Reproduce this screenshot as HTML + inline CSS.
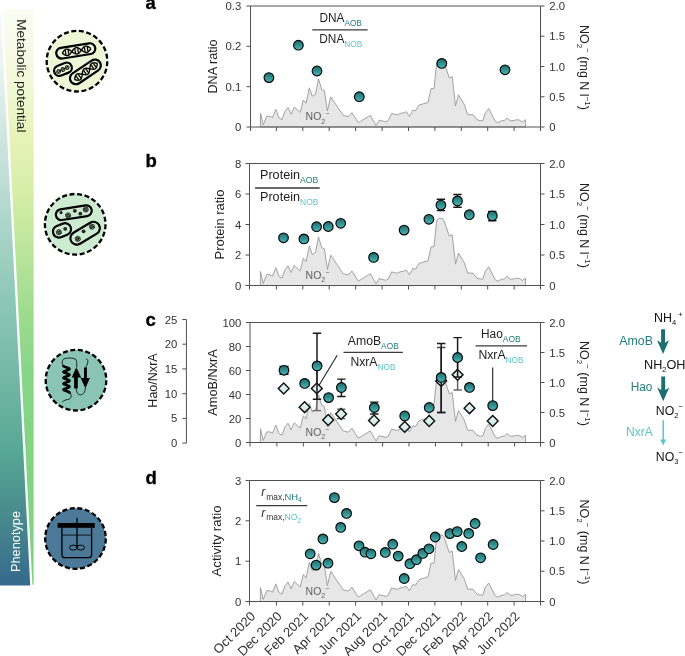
<!DOCTYPE html><html><head><meta charset="utf-8"><style>html,body{margin:0;padding:0;background:#fff;overflow:hidden}svg{display:block}text{font-family:"Liberation Sans",sans-serif}svg{will-change:transform}</style></head><body>
<svg width="685" height="656" viewBox="0 0 685 656">
<defs>
<linearGradient id="gblue" x1="0" y1="9" x2="0" y2="586" gradientUnits="userSpaceOnUse">
<stop offset="0" stop-color="#f6faf9"/><stop offset="0.088" stop-color="#ebf4f1"/><stop offset="0.192" stop-color="#d5e9e3"/>
<stop offset="0.331" stop-color="#b6dad0"/><stop offset="0.497" stop-color="#8fc8b7"/><stop offset="0.631" stop-color="#74b9a6"/>
<stop offset="0.764" stop-color="#57a895"/><stop offset="0.835" stop-color="#4e958f"/><stop offset="0.905" stop-color="#45838d"/>
<stop offset="0.99" stop-color="#366c8c"/><stop offset="1" stop-color="#356a8c"/></linearGradient>
<linearGradient id="ggreen" x1="0" y1="9" x2="0" y2="586" gradientUnits="userSpaceOnUse">
<stop offset="0" stop-color="#fbfdf4"/><stop offset="0.088" stop-color="#f5f9e3"/><stop offset="0.21" stop-color="#e9f4bc"/>
<stop offset="0.33" stop-color="#d3eca5"/><stop offset="0.503" stop-color="#a4dd91"/><stop offset="0.635" stop-color="#85d587"/><stop offset="1" stop-color="#80d283"/></linearGradient>
<linearGradient id="gpt" x1="0" y1="0" x2="0" y2="1">
<stop offset="0" stop-color="#1a6a6c"/><stop offset="1" stop-color="#4ab8b8"/></linearGradient>
<linearGradient id="gdia" x1="0" y1="0" x2="0" y2="1">
<stop offset="0" stop-color="#e6f6f5"/><stop offset="1" stop-color="#cbe9e8"/></linearGradient>
</defs>
<polygon points="0,9.5 0.6,9.5 30.2,585.6 0,585.6" fill="url(#gblue)"/>
<polygon points="2.9,9.2 33.6,9.2 33.6,584.8 32.4,584.8" fill="url(#ggreen)"/>
<text transform="translate(17.2,19.2) rotate(90)" font-size="12.5" fill="#222" textLength="113.2" lengthAdjust="spacingAndGlyphs">Metabolic potential</text>
<text transform="translate(19.8,572) rotate(-90)" font-size="12" fill="#fff" textLength="61" lengthAdjust="spacingAndGlyphs">Phenotype</text>
<polygon points="260.3,127.00 260.5,113.10 263.2,125.00 266.7,116.30 270.0,116.30 272.5,117.70 275.8,109.40 279.1,118.10 282.0,119.60 284.9,111.50 288.0,107.50 291.1,114.20 294.3,107.10 300.2,112.50 303.3,100.00 306.1,103.30 309.3,87.80 312.3,96.30 315.5,94.20 318.5,78.80 321.7,89.40 324.4,90.70 327.4,111.00 330.7,96.90 343.2,115.30 348.4,116.60 351.9,112.60 358.2,122.60 360.8,121.20 370.3,115.30 376.1,125.50 379.2,120.20 385.8,121.80 388.4,120.50 391.5,113.50 397.2,114.90 400.2,113.50 403.7,112.80 406.3,111.70 409.4,116.30 412.9,110.00 415.5,110.80 419.0,105.10 422.6,104.00 428.0,102.50 431.0,88.70 434.0,88.50 436.4,65.50 437.3,61.60 439.0,60.50 442.6,60.60 443.9,62.80 446.1,68.50 449.3,78.00 452.2,76.60 455.5,105.80 458.5,94.80 464.2,104.30 467.7,114.60 473.1,114.80 476.9,119.70 480.2,120.60 482.8,120.60 485.4,112.70 488.7,108.50 495.2,121.30 497.7,122.70 501.5,120.80 504.4,120.50 507.0,118.00 510.4,120.80 513.9,120.50 516.7,119.70 519.6,120.10 522.4,122.00 525.4,119.70 525.5,127.00" fill="#e7e7e7" stroke="#999" stroke-width="0.9" stroke-linejoin="round"/>
<path d="M250.5,6.0H540.5M250.5,6.0V127.0M250.5,127.0H540.5M540.5,6.0V127.0" stroke="#505050" stroke-width="1" fill="none"/>
<path d="M246.5,127.0H250.5" stroke="#505050" stroke-width="1"/>
<text x="241.3" y="131.0" font-size="11.3" fill="#333" text-anchor="end" >0</text>
<path d="M246.5,86.7H250.5" stroke="#505050" stroke-width="1"/>
<text x="241.3" y="90.7" font-size="11.3" fill="#333" text-anchor="end" >0.1</text>
<path d="M246.5,46.3H250.5" stroke="#505050" stroke-width="1"/>
<text x="241.3" y="50.3" font-size="11.3" fill="#333" text-anchor="end" >0.2</text>
<path d="M246.5,6.0H250.5" stroke="#505050" stroke-width="1"/>
<text x="241.3" y="10.0" font-size="11.3" fill="#333" text-anchor="end" >0.3</text>
<path d="M540.5,127.0H544.5" stroke="#505050" stroke-width="1"/>
<text x="549.3" y="131.0" font-size="11.3" fill="#333" text-anchor="start" >0</text>
<path d="M540.5,96.8H544.5" stroke="#505050" stroke-width="1"/>
<text x="549.3" y="100.8" font-size="11.3" fill="#333" text-anchor="start" >0.5</text>
<path d="M540.5,66.5H544.5" stroke="#505050" stroke-width="1"/>
<text x="549.3" y="70.5" font-size="11.3" fill="#333" text-anchor="start" >1.0</text>
<path d="M540.5,36.2H544.5" stroke="#505050" stroke-width="1"/>
<text x="549.3" y="40.2" font-size="11.3" fill="#333" text-anchor="start" >1.5</text>
<path d="M540.5,6.0H544.5" stroke="#505050" stroke-width="1"/>
<text x="549.3" y="10.0" font-size="11.3" fill="#333" text-anchor="start" >2.0</text>
<path d="M250.5,127.0V131.0" stroke="#505050" stroke-width="1"/>
<path d="M276.4,127.0V131.0" stroke="#505050" stroke-width="1"/>
<path d="M302.8,127.0V131.0" stroke="#505050" stroke-width="1"/>
<path d="M329.2,127.0V131.0" stroke="#505050" stroke-width="1"/>
<path d="M355.6,127.0V131.0" stroke="#505050" stroke-width="1"/>
<path d="M382.1,127.0V131.0" stroke="#505050" stroke-width="1"/>
<path d="M408.5,127.0V131.0" stroke="#505050" stroke-width="1"/>
<path d="M434.9,127.0V131.0" stroke="#505050" stroke-width="1"/>
<path d="M461.3,127.0V131.0" stroke="#505050" stroke-width="1"/>
<path d="M487.7,127.0V131.0" stroke="#505050" stroke-width="1"/>
<path d="M514.1,127.0V131.0" stroke="#505050" stroke-width="1"/>
<path d="M540.5,127.0V131.0" stroke="#505050" stroke-width="1"/>
<text x="145.6" y="9.4" font-size="18.5" font-weight="bold" fill="#000" stroke="#000" stroke-width="0.35">a</text>
<text transform="translate(216.8,66.5) rotate(-90)" font-size="12.5" fill="#1e1e1e" text-anchor="middle" textLength="54" lengthAdjust="spacingAndGlyphs">DNA ratio</text>
<text transform="translate(580.2,25.0) rotate(90)" font-size="12.5" fill="#1e1e1e">NO<tspan font-size="8" dy="3">2</tspan><tspan font-size="8" dy="-8">&#8722;</tspan><tspan dy="5"> (mg N l</tspan><tspan font-size="8" dy="-5">&#8722;1</tspan><tspan dy="5">)</tspan></text>
<text x="305.6" y="120.2" font-size="10.5" fill="#5f5f5f">NO<tspan font-size="7" dy="3.5">2</tspan><tspan font-size="7" dy="-7.5">&#8722;</tspan></text>
<path d="M312.3,29.8H367.7" stroke="#3a3a3a" stroke-width="1.3"/>
<text x="319.4" y="21.9" font-size="12.3" fill="#1e1e1e"><tspan textLength="25" lengthAdjust="spacingAndGlyphs">DNA</tspan><tspan font-size="8.6" dy="4.0" fill="#207e7e" textLength="17.5" lengthAdjust="spacingAndGlyphs">AOB</tspan></text>
<text x="319.3" y="43.1" font-size="12.3" fill="#1e1e1e"><tspan textLength="25" lengthAdjust="spacingAndGlyphs">DNA</tspan><tspan font-size="8.6" dy="4.0" fill="#5ec3c8" textLength="18" lengthAdjust="spacingAndGlyphs">NOB</tspan></text>
<circle cx="268.9" cy="77.6" r="4.82" fill="url(#gpt)" stroke="#000" stroke-width="1.15"/>
<circle cx="298.4" cy="45.2" r="4.82" fill="url(#gpt)" stroke="#000" stroke-width="1.15"/>
<circle cx="317.0" cy="71.0" r="4.82" fill="url(#gpt)" stroke="#000" stroke-width="1.15"/>
<circle cx="359.3" cy="96.7" r="4.82" fill="url(#gpt)" stroke="#000" stroke-width="1.15"/>
<circle cx="441.8" cy="63.4" r="4.82" fill="url(#gpt)" stroke="#000" stroke-width="1.15"/>
<circle cx="505.0" cy="69.8" r="4.82" fill="url(#gpt)" stroke="#000" stroke-width="1.15"/>
<polygon points="260.3,285.50 260.5,271.49 263.2,283.48 266.7,274.71 270.0,274.71 272.5,276.12 275.8,267.75 279.1,276.53 282.0,278.04 284.9,269.87 288.0,265.84 291.1,272.59 294.3,265.44 300.2,270.88 303.3,258.28 306.1,261.60 309.3,245.98 312.3,254.55 315.5,252.43 318.5,236.90 321.7,247.59 324.4,248.90 327.4,269.37 330.7,255.15 343.2,273.70 348.4,275.01 351.9,270.98 358.2,281.06 360.8,279.65 370.3,273.70 376.1,283.99 379.2,278.64 385.8,280.26 388.4,278.95 391.5,271.89 397.2,273.30 400.2,271.89 403.7,271.18 406.3,270.07 409.4,274.71 412.9,268.36 415.5,269.17 419.0,263.42 422.6,262.31 428.0,260.80 431.0,246.88 434.0,246.68 436.4,223.49 437.3,219.56 439.0,218.45 442.6,218.55 443.9,220.77 446.1,226.52 449.3,236.10 452.2,234.68 455.5,264.12 458.5,253.03 464.2,262.61 467.7,273.00 473.1,273.20 476.9,278.14 480.2,279.05 482.8,279.05 485.4,271.08 488.7,266.85 495.2,279.75 497.7,281.16 501.5,279.25 504.4,278.95 507.0,276.43 510.4,279.25 513.9,278.95 516.7,278.14 519.6,278.54 522.4,280.46 525.4,278.14 525.5,285.50" fill="#e7e7e7" stroke="#999" stroke-width="0.9" stroke-linejoin="round"/>
<path d="M249.5,163.5H540.5M249.5,163.5V285.5M249.5,285.5H540.5M540.5,163.5V285.5" stroke="#505050" stroke-width="1" fill="none"/>
<path d="M245.5,285.5H249.5" stroke="#505050" stroke-width="1"/>
<text x="241.3" y="289.5" font-size="11.3" fill="#333" text-anchor="end" >0</text>
<path d="M245.5,255.0H249.5" stroke="#505050" stroke-width="1"/>
<text x="241.3" y="259.0" font-size="11.3" fill="#333" text-anchor="end" >2</text>
<path d="M245.5,224.5H249.5" stroke="#505050" stroke-width="1"/>
<text x="241.3" y="228.5" font-size="11.3" fill="#333" text-anchor="end" >4</text>
<path d="M245.5,194.0H249.5" stroke="#505050" stroke-width="1"/>
<text x="241.3" y="198.0" font-size="11.3" fill="#333" text-anchor="end" >6</text>
<path d="M245.5,163.5H249.5" stroke="#505050" stroke-width="1"/>
<text x="241.3" y="167.5" font-size="11.3" fill="#333" text-anchor="end" >8</text>
<path d="M540.5,285.5H544.5" stroke="#505050" stroke-width="1"/>
<text x="549.3" y="289.5" font-size="11.3" fill="#333" text-anchor="start" >0</text>
<path d="M540.5,255.0H544.5" stroke="#505050" stroke-width="1"/>
<text x="549.3" y="259.0" font-size="11.3" fill="#333" text-anchor="start" >0.5</text>
<path d="M540.5,224.5H544.5" stroke="#505050" stroke-width="1"/>
<text x="549.3" y="228.5" font-size="11.3" fill="#333" text-anchor="start" >1.0</text>
<path d="M540.5,194.0H544.5" stroke="#505050" stroke-width="1"/>
<text x="549.3" y="198.0" font-size="11.3" fill="#333" text-anchor="start" >1.5</text>
<path d="M540.5,163.5H544.5" stroke="#505050" stroke-width="1"/>
<text x="549.3" y="167.5" font-size="11.3" fill="#333" text-anchor="start" >2.0</text>
<path d="M249.5,285.5V289.5" stroke="#505050" stroke-width="1"/>
<path d="M276.4,285.5V289.5" stroke="#505050" stroke-width="1"/>
<path d="M302.8,285.5V289.5" stroke="#505050" stroke-width="1"/>
<path d="M329.2,285.5V289.5" stroke="#505050" stroke-width="1"/>
<path d="M355.6,285.5V289.5" stroke="#505050" stroke-width="1"/>
<path d="M382.1,285.5V289.5" stroke="#505050" stroke-width="1"/>
<path d="M408.5,285.5V289.5" stroke="#505050" stroke-width="1"/>
<path d="M434.9,285.5V289.5" stroke="#505050" stroke-width="1"/>
<path d="M461.3,285.5V289.5" stroke="#505050" stroke-width="1"/>
<path d="M487.7,285.5V289.5" stroke="#505050" stroke-width="1"/>
<path d="M514.1,285.5V289.5" stroke="#505050" stroke-width="1"/>
<path d="M540.5,285.5V289.5" stroke="#505050" stroke-width="1"/>
<text x="145.6" y="166.5" font-size="18.5" font-weight="bold" fill="#000" stroke="#000" stroke-width="0.35">b</text>
<text transform="translate(224.4,224.5) rotate(-90)" font-size="12.5" fill="#1e1e1e" text-anchor="middle" textLength="69.8" lengthAdjust="spacingAndGlyphs">Protein ratio</text>
<text transform="translate(580.2,183.0) rotate(90)" font-size="12.5" fill="#1e1e1e">NO<tspan font-size="8" dy="3">2</tspan><tspan font-size="8" dy="-8">&#8722;</tspan><tspan dy="5"> (mg N l</tspan><tspan font-size="8" dy="-5">&#8722;1</tspan><tspan dy="5">)</tspan></text>
<text x="305.6" y="278.7" font-size="10.5" fill="#5f5f5f">NO<tspan font-size="7" dy="3.5">2</tspan><tspan font-size="7" dy="-7.5">&#8722;</tspan></text>
<path d="M255.1,188.0H319.7" stroke="#3a3a3a" stroke-width="1.3"/>
<text x="260.0" y="178.8" font-size="12.3" fill="#1e1e1e"><tspan textLength="40" lengthAdjust="spacingAndGlyphs">Protein</tspan><tspan font-size="8.6" dy="4.0" fill="#207e7e" textLength="18.2" lengthAdjust="spacingAndGlyphs">AOB</tspan></text>
<text x="260.0" y="201.2" font-size="12.3" fill="#1e1e1e"><tspan textLength="40" lengthAdjust="spacingAndGlyphs">Protein</tspan><tspan font-size="8.6" dy="4.0" fill="#5ec3c8" textLength="18.5" lengthAdjust="spacingAndGlyphs">NOB</tspan></text>
<path d="M440.90,199.3V210.6" stroke="#1a1a1a" stroke-width="1.5" fill="none"/><path d="M436.7,199.3H445.1M436.7,210.6H445.1" stroke="#1a1a1a" stroke-width="1.45" fill="none"/>
<path d="M457.50,194.4V207.3" stroke="#1a1a1a" stroke-width="1.5" fill="none"/><path d="M453.3,194.4H461.7M453.3,207.3H461.7" stroke="#1a1a1a" stroke-width="1.45" fill="none"/>
<path d="M492.30,211.4V220.7" stroke="#1a1a1a" stroke-width="1.5" fill="none"/><path d="M488.1,211.4H496.5M488.1,220.7H496.5" stroke="#1a1a1a" stroke-width="1.45" fill="none"/>
<circle cx="283.5" cy="237.8" r="4.82" fill="url(#gpt)" stroke="#000" stroke-width="1.15"/>
<circle cx="303.9" cy="238.9" r="4.82" fill="url(#gpt)" stroke="#000" stroke-width="1.15"/>
<circle cx="316.6" cy="226.7" r="4.82" fill="url(#gpt)" stroke="#000" stroke-width="1.15"/>
<circle cx="328.3" cy="226.5" r="4.82" fill="url(#gpt)" stroke="#000" stroke-width="1.15"/>
<circle cx="340.7" cy="223.3" r="4.82" fill="url(#gpt)" stroke="#000" stroke-width="1.15"/>
<circle cx="373.6" cy="257.4" r="4.82" fill="url(#gpt)" stroke="#000" stroke-width="1.15"/>
<circle cx="404.1" cy="230.1" r="4.82" fill="url(#gpt)" stroke="#000" stroke-width="1.15"/>
<circle cx="428.9" cy="219.3" r="4.82" fill="url(#gpt)" stroke="#000" stroke-width="1.15"/>
<circle cx="440.9" cy="205.1" r="4.82" fill="url(#gpt)" stroke="#000" stroke-width="1.15"/>
<circle cx="457.5" cy="200.9" r="4.82" fill="url(#gpt)" stroke="#000" stroke-width="1.15"/>
<circle cx="469.3" cy="214.7" r="4.82" fill="url(#gpt)" stroke="#000" stroke-width="1.15"/>
<circle cx="492.3" cy="215.8" r="4.82" fill="url(#gpt)" stroke="#000" stroke-width="1.15"/>
<polygon points="260.3,442.50 260.5,428.71 263.2,440.52 266.7,431.89 270.0,431.89 272.5,433.28 275.8,425.05 279.1,433.67 282.0,435.16 284.9,427.13 288.0,423.16 291.1,429.81 294.3,422.76 300.2,428.12 303.3,415.72 306.1,419.00 309.3,403.62 312.3,412.05 315.5,409.97 318.5,394.70 321.7,405.21 324.4,406.50 327.4,426.63 330.7,412.65 343.2,430.90 348.4,432.19 351.9,428.22 358.2,438.14 360.8,436.75 370.3,430.90 376.1,441.01 379.2,435.76 385.8,437.34 388.4,436.05 391.5,429.11 397.2,430.50 400.2,429.11 403.7,428.42 406.3,427.33 409.4,431.89 412.9,425.64 415.5,426.43 419.0,420.78 422.6,419.69 428.0,418.20 431.0,404.52 434.0,404.32 436.4,381.51 437.3,377.64 439.0,376.55 442.6,376.65 443.9,378.83 446.1,384.48 449.3,393.90 452.2,392.52 455.5,421.48 458.5,410.57 464.2,419.99 467.7,430.20 473.1,430.40 476.9,435.26 480.2,436.15 482.8,436.15 485.4,428.32 488.7,424.15 495.2,436.85 497.7,438.24 501.5,436.35 504.4,436.05 507.0,433.57 510.4,436.35 513.9,436.05 516.7,435.26 519.6,435.66 522.4,437.54 525.4,435.26 525.5,442.50" fill="#e7e7e7" stroke="#999" stroke-width="0.9" stroke-linejoin="round"/>
<path d="M250.0,322.5H540.5M250.0,322.5V442.5M250.0,442.5H540.5M540.5,322.5V442.5" stroke="#505050" stroke-width="1" fill="none"/>
<path d="M246.0,442.5H250.0" stroke="#505050" stroke-width="1"/>
<text x="241.3" y="446.5" font-size="11.3" fill="#333" text-anchor="end" >0</text>
<path d="M246.0,418.5H250.0" stroke="#505050" stroke-width="1"/>
<text x="241.3" y="422.5" font-size="11.3" fill="#333" text-anchor="end" >20</text>
<path d="M246.0,394.5H250.0" stroke="#505050" stroke-width="1"/>
<text x="241.3" y="398.5" font-size="11.3" fill="#333" text-anchor="end" >40</text>
<path d="M246.0,370.5H250.0" stroke="#505050" stroke-width="1"/>
<text x="241.3" y="374.5" font-size="11.3" fill="#333" text-anchor="end" >60</text>
<path d="M246.0,346.5H250.0" stroke="#505050" stroke-width="1"/>
<text x="241.3" y="350.5" font-size="11.3" fill="#333" text-anchor="end" >80</text>
<path d="M246.0,322.5H250.0" stroke="#505050" stroke-width="1"/>
<text x="241.3" y="326.5" font-size="11.3" fill="#333" text-anchor="end" >100</text>
<path d="M540.5,442.5H544.5" stroke="#505050" stroke-width="1"/>
<text x="549.3" y="446.5" font-size="11.3" fill="#333" text-anchor="start" >0</text>
<path d="M540.5,412.5H544.5" stroke="#505050" stroke-width="1"/>
<text x="549.3" y="416.5" font-size="11.3" fill="#333" text-anchor="start" >0.5</text>
<path d="M540.5,382.5H544.5" stroke="#505050" stroke-width="1"/>
<text x="549.3" y="386.5" font-size="11.3" fill="#333" text-anchor="start" >1.0</text>
<path d="M540.5,352.5H544.5" stroke="#505050" stroke-width="1"/>
<text x="549.3" y="356.5" font-size="11.3" fill="#333" text-anchor="start" >1.5</text>
<path d="M540.5,322.5H544.5" stroke="#505050" stroke-width="1"/>
<text x="549.3" y="326.5" font-size="11.3" fill="#333" text-anchor="start" >2.0</text>
<path d="M250.0,442.5V446.5" stroke="#505050" stroke-width="1"/>
<path d="M276.9,442.5V446.5" stroke="#505050" stroke-width="1"/>
<path d="M303.3,442.5V446.5" stroke="#505050" stroke-width="1"/>
<path d="M329.7,442.5V446.5" stroke="#505050" stroke-width="1"/>
<path d="M356.1,442.5V446.5" stroke="#505050" stroke-width="1"/>
<path d="M382.6,442.5V446.5" stroke="#505050" stroke-width="1"/>
<path d="M409.0,442.5V446.5" stroke="#505050" stroke-width="1"/>
<path d="M435.4,442.5V446.5" stroke="#505050" stroke-width="1"/>
<path d="M461.8,442.5V446.5" stroke="#505050" stroke-width="1"/>
<path d="M488.2,442.5V446.5" stroke="#505050" stroke-width="1"/>
<path d="M514.6,442.5V446.5" stroke="#505050" stroke-width="1"/>
<path d="M540.5,442.5V446.5" stroke="#505050" stroke-width="1"/>
<text x="145.6" y="325.6" font-size="18.5" font-weight="bold" fill="#000" stroke="#000" stroke-width="0.35">c</text>
<text transform="translate(216.6,382.5) rotate(-90)" font-size="12.5" fill="#1e1e1e" text-anchor="middle" textLength="66.4" lengthAdjust="spacingAndGlyphs">AmoB/NxrA</text>
<text transform="translate(580.2,341.0) rotate(90)" font-size="12.5" fill="#1e1e1e">NO<tspan font-size="8" dy="3">2</tspan><tspan font-size="8" dy="-8">&#8722;</tspan><tspan dy="5"> (mg N l</tspan><tspan font-size="8" dy="-5">&#8722;1</tspan><tspan dy="5">)</tspan></text>
<text x="305.6" y="435.7" font-size="10.5" fill="#5f5f5f">NO<tspan font-size="7" dy="3.5">2</tspan><tspan font-size="7" dy="-7.5">&#8722;</tspan></text>
<polygon points="260.3,601.50 260.5,587.60 263.2,599.50 266.7,590.80 270.0,590.80 272.5,592.20 275.8,583.90 279.1,592.60 282.0,594.10 284.9,586.00 288.0,582.00 291.1,588.70 294.3,581.60 300.2,587.00 303.3,574.50 306.1,577.80 309.3,562.30 312.3,570.80 315.5,568.70 318.5,553.30 321.7,563.90 324.4,565.20 327.4,585.50 330.7,571.40 343.2,589.80 348.4,591.10 351.9,587.10 358.2,597.10 360.8,595.70 370.3,589.80 376.1,600.00 379.2,594.70 385.8,596.30 388.4,595.00 391.5,588.00 397.2,589.40 400.2,588.00 403.7,587.30 406.3,586.20 409.4,590.80 412.9,584.50 415.5,585.30 419.0,579.60 422.6,578.50 428.0,577.00 431.0,563.20 434.0,563.00 436.4,540.00 437.3,536.10 439.0,535.00 442.6,535.10 443.9,537.30 446.1,543.00 449.3,552.50 452.2,551.10 455.5,580.30 458.5,569.30 464.2,578.80 467.7,589.10 473.1,589.30 476.9,594.20 480.2,595.10 482.8,595.10 485.4,587.20 488.7,583.00 495.2,595.80 497.7,597.20 501.5,595.30 504.4,595.00 507.0,592.50 510.4,595.30 513.9,595.00 516.7,594.20 519.6,594.60 522.4,596.50 525.4,594.20 525.5,601.50" fill="#e7e7e7" stroke="#999" stroke-width="0.9" stroke-linejoin="round"/>
<path d="M249.5,480.5H540.5M249.5,480.5V601.5M249.5,601.5H540.5M540.5,480.5V601.5" stroke="#505050" stroke-width="1" fill="none"/>
<path d="M245.5,601.5H249.5" stroke="#505050" stroke-width="1"/>
<text x="241.3" y="605.5" font-size="11.3" fill="#333" text-anchor="end" >0</text>
<path d="M245.5,561.2H249.5" stroke="#505050" stroke-width="1"/>
<text x="241.3" y="565.2" font-size="11.3" fill="#333" text-anchor="end" >1</text>
<path d="M245.5,520.8H249.5" stroke="#505050" stroke-width="1"/>
<text x="241.3" y="524.8" font-size="11.3" fill="#333" text-anchor="end" >2</text>
<path d="M245.5,480.5H249.5" stroke="#505050" stroke-width="1"/>
<text x="241.3" y="484.5" font-size="11.3" fill="#333" text-anchor="end" >3</text>
<path d="M540.5,601.5H544.5" stroke="#505050" stroke-width="1"/>
<text x="549.3" y="605.5" font-size="11.3" fill="#333" text-anchor="start" >0</text>
<path d="M540.5,571.2H544.5" stroke="#505050" stroke-width="1"/>
<text x="549.3" y="575.2" font-size="11.3" fill="#333" text-anchor="start" >0.5</text>
<path d="M540.5,541.0H544.5" stroke="#505050" stroke-width="1"/>
<text x="549.3" y="545.0" font-size="11.3" fill="#333" text-anchor="start" >1.0</text>
<path d="M540.5,510.8H544.5" stroke="#505050" stroke-width="1"/>
<text x="549.3" y="514.8" font-size="11.3" fill="#333" text-anchor="start" >1.5</text>
<path d="M540.5,480.5H544.5" stroke="#505050" stroke-width="1"/>
<text x="549.3" y="484.5" font-size="11.3" fill="#333" text-anchor="start" >2.0</text>
<path d="M249.5,601.5V605.5" stroke="#505050" stroke-width="1"/>
<path d="M276.4,601.5V605.5" stroke="#505050" stroke-width="1"/>
<path d="M302.8,601.5V605.5" stroke="#505050" stroke-width="1"/>
<path d="M329.2,601.5V605.5" stroke="#505050" stroke-width="1"/>
<path d="M355.6,601.5V605.5" stroke="#505050" stroke-width="1"/>
<path d="M382.1,601.5V605.5" stroke="#505050" stroke-width="1"/>
<path d="M408.5,601.5V605.5" stroke="#505050" stroke-width="1"/>
<path d="M434.9,601.5V605.5" stroke="#505050" stroke-width="1"/>
<path d="M461.3,601.5V605.5" stroke="#505050" stroke-width="1"/>
<path d="M487.7,601.5V605.5" stroke="#505050" stroke-width="1"/>
<path d="M514.1,601.5V605.5" stroke="#505050" stroke-width="1"/>
<path d="M540.5,601.5V605.5" stroke="#505050" stroke-width="1"/>
<text x="145.6" y="483.7" font-size="18.5" font-weight="bold" fill="#000" stroke="#000" stroke-width="0.35">d</text>
<text transform="translate(221.3,541.0) rotate(-90)" font-size="12.5" fill="#1e1e1e" text-anchor="middle" textLength="70.9" lengthAdjust="spacingAndGlyphs">Activity ratio</text>
<text transform="translate(580.2,499.5) rotate(90)" font-size="12.5" fill="#1e1e1e">NO<tspan font-size="8" dy="3">2</tspan><tspan font-size="8" dy="-8">&#8722;</tspan><tspan dy="5"> (mg N l</tspan><tspan font-size="8" dy="-5">&#8722;1</tspan><tspan dy="5">)</tspan></text>
<text x="305.6" y="594.7" font-size="10.5" fill="#5f5f5f">NO<tspan font-size="7" dy="3.5">2</tspan><tspan font-size="7" dy="-7.5">&#8722;</tspan></text>
<text transform="translate(256.2,617.1) rotate(-45)" font-size="13.1" fill="#333" text-anchor="end">Oct 2020</text>
<text transform="translate(282.6,617.1) rotate(-45)" font-size="13.1" fill="#333" text-anchor="end">Dec 2020</text>
<text transform="translate(309.0,617.1) rotate(-45)" font-size="13.1" fill="#333" text-anchor="end">Feb 2021</text>
<text transform="translate(335.4,617.1) rotate(-45)" font-size="13.1" fill="#333" text-anchor="end">Apr 2021</text>
<text transform="translate(361.8,617.1) rotate(-45)" font-size="13.1" fill="#333" text-anchor="end">Jun 2021</text>
<text transform="translate(388.2,617.1) rotate(-45)" font-size="13.1" fill="#333" text-anchor="end">Aug 2021</text>
<text transform="translate(414.7,617.1) rotate(-45)" font-size="13.1" fill="#333" text-anchor="end">Oct 2021</text>
<text transform="translate(441.1,617.1) rotate(-45)" font-size="13.1" fill="#333" text-anchor="end">Dec 2021</text>
<text transform="translate(467.5,617.1) rotate(-45)" font-size="13.1" fill="#333" text-anchor="end">Feb 2022</text>
<text transform="translate(493.9,617.1) rotate(-45)" font-size="13.1" fill="#333" text-anchor="end">Apr 2022</text>
<text transform="translate(520.3,617.1) rotate(-45)" font-size="13.1" fill="#333" text-anchor="end">Jun 2022</text>
<path d="M186.4,319.5V443.1" stroke="#505050" stroke-width="1" fill="none"/>
<path d="M182.3,443.1H186.4" stroke="#505050" stroke-width="1"/>
<text x="177.4" y="447.1" font-size="11.3" fill="#333" text-anchor="end" >0</text>
<path d="M182.3,418.4H186.4" stroke="#505050" stroke-width="1"/>
<text x="177.4" y="422.4" font-size="11.3" fill="#333" text-anchor="end" >5</text>
<path d="M182.3,393.7H186.4" stroke="#505050" stroke-width="1"/>
<text x="177.4" y="397.7" font-size="11.3" fill="#333" text-anchor="end" >10</text>
<path d="M182.3,368.9H186.4" stroke="#505050" stroke-width="1"/>
<text x="177.4" y="372.9" font-size="11.3" fill="#333" text-anchor="end" >15</text>
<path d="M182.3,344.2H186.4" stroke="#505050" stroke-width="1"/>
<text x="177.4" y="348.2" font-size="11.3" fill="#333" text-anchor="end" >20</text>
<path d="M182.3,319.5H186.4" stroke="#505050" stroke-width="1"/>
<text x="177.4" y="323.5" font-size="11.3" fill="#333" text-anchor="end" >25</text>
<text transform="translate(157.3,380.5) rotate(-90)" font-size="12.5" fill="#1e1e1e" text-anchor="middle" textLength="54.3" lengthAdjust="spacingAndGlyphs">Hao/NxrA</text>
<path d="M318.3,386.5L337.2,355.2" stroke="#222" stroke-width="1.1"/>
<path d="M492.7,367.5V401" stroke="#222" stroke-width="1.1"/>
<path d="M316.90,366.0V410.6" stroke="#666" stroke-width="1.5" fill="none"/><path d="M312.7,366.0H321.1M312.7,410.6H321.1" stroke="#666" stroke-width="1.45" fill="none"/>
<path d="M341.20,409.3V418.6" stroke="#666" stroke-width="1.5" fill="none"/><path d="M337.0,409.3H345.4M337.0,418.6H345.4" stroke="#666" stroke-width="1.45" fill="none"/>
<path d="M457.60,359.5V390.0" stroke="#666" stroke-width="1.5" fill="none"/><path d="M453.4,359.5H461.8M453.4,390.0H461.8" stroke="#666" stroke-width="1.45" fill="none"/>
<path d="M441.20,347.4V412.4" stroke="#444" stroke-width="1.5" fill="none"/><path d="M437.0,347.4H445.4M437.0,412.4H445.4" stroke="#444" stroke-width="1.45" fill="none"/>
<path d="M283.7,383.1L289.1,388.5L283.7,393.9L278.3,388.5Z" fill="url(#gdia)" stroke="#111" stroke-width="1.45" stroke-linejoin="miter"/>
<path d="M304.6,401.8L310.0,407.2L304.6,412.6L299.2,407.2Z" fill="url(#gdia)" stroke="#111" stroke-width="1.45" stroke-linejoin="miter"/>
<path d="M316.8,383.0L322.2,388.4L316.8,393.8L311.4,388.4Z" fill="url(#gdia)" stroke="#111" stroke-width="1.45" stroke-linejoin="miter"/>
<path d="M328.2,414.6L333.6,420.0L328.2,425.4L322.8,420.0Z" fill="url(#gdia)" stroke="#111" stroke-width="1.45" stroke-linejoin="miter"/>
<path d="M341.1,408.6L346.5,414.0L341.1,419.4L335.7,414.0Z" fill="url(#gdia)" stroke="#111" stroke-width="1.45" stroke-linejoin="miter"/>
<path d="M374.0,415.1L379.4,420.5L374.0,425.9L368.6,420.5Z" fill="url(#gdia)" stroke="#111" stroke-width="1.45" stroke-linejoin="miter"/>
<path d="M404.7,421.5L410.1,426.9L404.7,432.3L399.3,426.9Z" fill="url(#gdia)" stroke="#111" stroke-width="1.45" stroke-linejoin="miter"/>
<path d="M429.2,415.6L434.6,421.0L429.2,426.4L423.8,421.0Z" fill="url(#gdia)" stroke="#111" stroke-width="1.45" stroke-linejoin="miter"/>
<path d="M441.2,375.6L446.6,381.0L441.2,386.4L435.8,381.0Z" fill="url(#gdia)" stroke="#111" stroke-width="1.45" stroke-linejoin="miter"/>
<path d="M457.6,369.4L463.0,374.8L457.6,380.2L452.2,374.8Z" fill="url(#gdia)" stroke="#111" stroke-width="1.45" stroke-linejoin="miter"/>
<path d="M469.5,402.8L474.9,408.2L469.5,413.6L464.1,408.2Z" fill="url(#gdia)" stroke="#111" stroke-width="1.45" stroke-linejoin="miter"/>
<path d="M492.7,415.6L498.1,421.0L492.7,426.4L487.3,421.0Z" fill="url(#gdia)" stroke="#111" stroke-width="1.45" stroke-linejoin="miter"/>
<path d="M317.00,333.3V399.2" stroke="#1a1a1a" stroke-width="1.5" fill="none"/><path d="M312.8,333.3H321.2M312.8,399.2H321.2" stroke="#1a1a1a" stroke-width="1.45" fill="none"/>
<path d="M341.40,379.1V396.5" stroke="#1a1a1a" stroke-width="1.5" fill="none"/><path d="M337.2,379.1H345.6M337.2,396.5H345.6" stroke="#1a1a1a" stroke-width="1.45" fill="none"/>
<path d="M374.30,402.1V413.9" stroke="#1a1a1a" stroke-width="1.5" fill="none"/><path d="M370.1,402.1H378.5M370.1,413.9H378.5" stroke="#1a1a1a" stroke-width="1.45" fill="none"/>
<path d="M441.20,343.5V412.4" stroke="#1a1a1a" stroke-width="1.5" fill="none"/><path d="M437.0,343.5H445.4M437.0,412.4H445.4" stroke="#1a1a1a" stroke-width="1.45" fill="none"/>
<path d="M457.60,337.6V377.0" stroke="#1a1a1a" stroke-width="1.5" fill="none"/><path d="M453.4,337.6H461.8M453.4,377.0H461.8" stroke="#1a1a1a" stroke-width="1.45" fill="none"/>
<path d="M284.00,366.4V374.2" stroke="#1a1a1a" stroke-width="1.5" fill="none"/><path d="M279.4,366.4H288.6M279.4,374.2H288.6" stroke="#1a1a1a" stroke-width="1.45" fill="none"/>
<circle cx="284.0" cy="370.3" r="4.82" fill="url(#gpt)" stroke="#000" stroke-width="1.15"/>
<circle cx="304.7" cy="383.4" r="4.82" fill="url(#gpt)" stroke="#000" stroke-width="1.15"/>
<circle cx="317.1" cy="365.9" r="4.82" fill="url(#gpt)" stroke="#000" stroke-width="1.15"/>
<circle cx="328.6" cy="397.6" r="4.82" fill="url(#gpt)" stroke="#000" stroke-width="1.15"/>
<circle cx="341.4" cy="387.5" r="4.82" fill="url(#gpt)" stroke="#000" stroke-width="1.15"/>
<circle cx="374.3" cy="407.5" r="4.82" fill="url(#gpt)" stroke="#000" stroke-width="1.15"/>
<circle cx="404.7" cy="416.0" r="4.82" fill="url(#gpt)" stroke="#000" stroke-width="1.15"/>
<circle cx="429.2" cy="407.5" r="4.82" fill="url(#gpt)" stroke="#000" stroke-width="1.15"/>
<circle cx="441.2" cy="377.4" r="4.82" fill="url(#gpt)" stroke="#000" stroke-width="1.15"/>
<circle cx="457.6" cy="357.5" r="4.82" fill="url(#gpt)" stroke="#000" stroke-width="1.15"/>
<circle cx="469.5" cy="387.4" r="4.82" fill="url(#gpt)" stroke="#000" stroke-width="1.15"/>
<circle cx="492.7" cy="405.6" r="4.82" fill="url(#gpt)" stroke="#000" stroke-width="1.15"/>
<path d="M343.5,352.3H402.9" stroke="#3a3a3a" stroke-width="1.3"/>
<text x="347.8" y="344.8" font-size="12.3" fill="#1e1e1e"><tspan textLength="33.3" lengthAdjust="spacingAndGlyphs">AmoB</tspan><tspan font-size="8.6" dy="4.0" fill="#207e7e" textLength="17.6" lengthAdjust="spacingAndGlyphs">AOB</tspan></text>
<text x="350.4" y="366.0" font-size="12.3" fill="#1e1e1e"><tspan textLength="27.1" lengthAdjust="spacingAndGlyphs">NxrA</tspan><tspan font-size="8.6" dy="4.0" fill="#5ec3c8" textLength="18" lengthAdjust="spacingAndGlyphs">NOB</tspan></text>
<path d="M475.5,345.8H527.0" stroke="#3a3a3a" stroke-width="1.3"/>
<text x="481.0" y="338.2" font-size="12.3" fill="#1e1e1e"><tspan textLength="21.8" lengthAdjust="spacingAndGlyphs">Hao</tspan><tspan font-size="8.6" dy="4.0" fill="#207e7e" textLength="18" lengthAdjust="spacingAndGlyphs">AOB</tspan></text>
<text x="478.4" y="358.6" font-size="12.3" fill="#1e1e1e"><tspan textLength="27.2" lengthAdjust="spacingAndGlyphs">NxrA</tspan><tspan font-size="8.6" dy="4.0" fill="#5ec3c8" textLength="18" lengthAdjust="spacingAndGlyphs">NOB</tspan></text>
<circle cx="310.2" cy="553.8" r="4.82" fill="url(#gpt)" stroke="#000" stroke-width="1.15"/>
<circle cx="316.1" cy="565.1" r="4.82" fill="url(#gpt)" stroke="#000" stroke-width="1.15"/>
<circle cx="322.9" cy="538.9" r="4.82" fill="url(#gpt)" stroke="#000" stroke-width="1.15"/>
<circle cx="328.0" cy="563.2" r="4.82" fill="url(#gpt)" stroke="#000" stroke-width="1.15"/>
<circle cx="334.4" cy="497.6" r="4.82" fill="url(#gpt)" stroke="#000" stroke-width="1.15"/>
<circle cx="340.7" cy="527.4" r="4.82" fill="url(#gpt)" stroke="#000" stroke-width="1.15"/>
<circle cx="346.6" cy="513.4" r="4.82" fill="url(#gpt)" stroke="#000" stroke-width="1.15"/>
<circle cx="359.0" cy="545.8" r="4.82" fill="url(#gpt)" stroke="#000" stroke-width="1.15"/>
<circle cx="365.0" cy="552.2" r="4.82" fill="url(#gpt)" stroke="#000" stroke-width="1.15"/>
<circle cx="370.9" cy="553.8" r="4.82" fill="url(#gpt)" stroke="#000" stroke-width="1.15"/>
<circle cx="385.3" cy="552.4" r="4.82" fill="url(#gpt)" stroke="#000" stroke-width="1.15"/>
<circle cx="392.7" cy="544.2" r="4.82" fill="url(#gpt)" stroke="#000" stroke-width="1.15"/>
<circle cx="398.2" cy="556.1" r="4.82" fill="url(#gpt)" stroke="#000" stroke-width="1.15"/>
<circle cx="404.2" cy="578.5" r="4.82" fill="url(#gpt)" stroke="#000" stroke-width="1.15"/>
<circle cx="409.9" cy="563.7" r="4.82" fill="url(#gpt)" stroke="#000" stroke-width="1.15"/>
<circle cx="416.4" cy="559.7" r="4.82" fill="url(#gpt)" stroke="#000" stroke-width="1.15"/>
<circle cx="422.8" cy="553.4" r="4.82" fill="url(#gpt)" stroke="#000" stroke-width="1.15"/>
<circle cx="429.0" cy="548.8" r="4.82" fill="url(#gpt)" stroke="#000" stroke-width="1.15"/>
<circle cx="435.2" cy="537.0" r="4.82" fill="url(#gpt)" stroke="#000" stroke-width="1.15"/>
<circle cx="449.9" cy="533.6" r="4.82" fill="url(#gpt)" stroke="#000" stroke-width="1.15"/>
<circle cx="457.2" cy="531.6" r="4.82" fill="url(#gpt)" stroke="#000" stroke-width="1.15"/>
<circle cx="461.8" cy="546.5" r="4.82" fill="url(#gpt)" stroke="#000" stroke-width="1.15"/>
<circle cx="468.7" cy="533.4" r="4.82" fill="url(#gpt)" stroke="#000" stroke-width="1.15"/>
<circle cx="475.1" cy="523.5" r="4.82" fill="url(#gpt)" stroke="#000" stroke-width="1.15"/>
<circle cx="480.6" cy="557.8" r="4.82" fill="url(#gpt)" stroke="#000" stroke-width="1.15"/>
<circle cx="493.1" cy="544.5" r="4.82" fill="url(#gpt)" stroke="#000" stroke-width="1.15"/>
<path d="M256.2,505.7H307.2" stroke="#3a3a3a" stroke-width="1.3"/>
<text x="261.3" y="496.2" font-size="12.5" font-style="italic" fill="#333">r</text>
<text x="266.2" y="499.9" font-size="8.8" fill="#333"><tspan textLength="18.3" lengthAdjust="spacingAndGlyphs">max,</tspan><tspan fill="#207e7e" textLength="13.6" lengthAdjust="spacingAndGlyphs">NH</tspan><tspan font-size="6.5" dy="2.4" fill="#207e7e">4</tspan></text>
<text x="261.3" y="516.7" font-size="12.5" font-style="italic" fill="#333">r</text>
<text x="266.2" y="520.4" font-size="8.8" fill="#333"><tspan textLength="18.3" lengthAdjust="spacingAndGlyphs">max,</tspan><tspan fill="#5ec3c8" textLength="12.9" lengthAdjust="spacingAndGlyphs">NO</tspan><tspan font-size="6.5" dy="2.4" fill="#5ec3c8">2</tspan></text>
<text x="654.0" y="321.6" font-size="12.4" fill="#111">NH<tspan font-size="7.5" dy="3.1">4</tspan><tspan font-size="8" dx="1.8" dy="-7.8">+</tspan></text>
<path d="M661.0999999999999,329.3H665.0V342.8L669.05,340.2L663.05,354.1L657.05,340.2L661.0999999999999,342.8Z" fill="#1b6f72"/>
<path d="M661.25,376.4H665.1500000000001V390.1L669.2,387.5L663.2,401.3L657.2,387.5L661.25,390.1Z" fill="#1b6f72"/>
<text x="619.3" y="344.7" font-size="12" fill="#207e7e" textLength="33.6" lengthAdjust="spacingAndGlyphs">AmoB</text>
<text x="644.0" y="368.8" font-size="12.7" fill="#111">NH<tspan font-size="7.5" dy="3.3">2</tspan><tspan dy="-3.3">OH</tspan></text>
<text x="630.7" y="391.4" font-size="12" fill="#207e7e" textLength="21.7" lengthAdjust="spacingAndGlyphs">Hao</text>
<text x="655.8" y="414.9" font-size="12.3" fill="#111">NO<tspan font-size="7.5" dy="3.3">2</tspan><tspan font-size="8" dy="-8.8">&#8722;</tspan></text>
<path d="M663.2,420.3V441" stroke="#5ec3c8" stroke-width="1.5"/><path d="M660.2,439.4L666.2,439.4L663.2,445.6Z" fill="#5ec3c8"/>
<text x="626" y="435.6" font-size="12" fill="#5ec3c8" textLength="26.7" lengthAdjust="spacingAndGlyphs">NxrA</text>
<text x="655.8" y="460.7" font-size="12.3" fill="#111">NO<tspan font-size="7.5" dy="3.3">3</tspan><tspan font-size="8" dy="-8.8">&#8722;</tspan></text>
<circle cx="77.0" cy="61.2" r="30.3" fill="#eff5d7" stroke="#000" stroke-width="2.3" stroke-dasharray="5 2.6"/>
<rect x="-19.70" y="-5.40" width="39.40" height="10.80" rx="5.40" transform="translate(75.8,50.9) rotate(-9)" fill="none" stroke="#000" stroke-width="2.2"/>
<rect x="-9.15" y="-5.20" width="18.30" height="10.40" rx="5.20" transform="translate(63.0,69.3) rotate(-22)" fill="none" stroke="#000" stroke-width="2.2"/>
<rect x="-17.40" y="-5.90" width="34.80" height="11.80" rx="5.90" transform="translate(85.4,71.9) rotate(-34)" fill="none" stroke="#000" stroke-width="2.2"/>
<g transform="translate(76.6,50.8) rotate(-9)" fill="none" stroke="#000"><polyline points="-14.50,0.00 -13.90,0.62 -13.29,1.22 -12.69,1.78 -12.08,2.26 -11.48,2.66 -10.88,2.96 -10.27,3.14 -9.67,3.20 -9.06,3.14 -8.46,2.96 -7.85,2.66 -7.25,2.26 -6.65,1.78 -6.04,1.22 -5.44,0.62 -4.83,0.00 -4.23,-0.62 -3.62,-1.22 -3.02,-1.78 -2.42,-2.26 -1.81,-2.66 -1.21,-2.96 -0.60,-3.14 0.00,-3.20 0.60,-3.14 1.21,-2.96 1.81,-2.66 2.42,-2.26 3.02,-1.78 3.62,-1.22 4.23,-0.62 4.83,-0.00 5.44,0.62 6.04,1.22 6.65,1.78 7.25,2.26 7.85,2.66 8.46,2.96 9.06,3.14 9.67,3.20 10.27,3.14 10.88,2.96 11.48,2.66 12.08,2.26 12.69,1.78 13.29,1.22 13.90,0.62 14.50,0.00" stroke-width="1.4"/><polyline points="-14.50,-0.00 -13.90,-0.62 -13.29,-1.22 -12.69,-1.78 -12.08,-2.26 -11.48,-2.66 -10.88,-2.96 -10.27,-3.14 -9.67,-3.20 -9.06,-3.14 -8.46,-2.96 -7.85,-2.66 -7.25,-2.26 -6.65,-1.78 -6.04,-1.22 -5.44,-0.62 -4.83,-0.00 -4.23,0.62 -3.62,1.22 -3.02,1.78 -2.42,2.26 -1.81,2.66 -1.21,2.96 -0.60,3.14 0.00,3.20 0.60,3.14 1.21,2.96 1.81,2.66 2.42,2.26 3.02,1.78 3.62,1.22 4.23,0.62 4.83,0.00 5.44,-0.62 6.04,-1.22 6.65,-1.78 7.25,-2.26 7.85,-2.66 8.46,-2.96 9.06,-3.14 9.67,-3.20 10.27,-3.14 10.88,-2.96 11.48,-2.66 12.08,-2.26 12.69,-1.78 13.29,-1.22 13.90,-0.62 14.50,-0.00" stroke-width="1.4"/><path d="M-11.12,2.28V-2.28M-8.22,2.28V-2.28M-1.45,2.28V-2.28M1.45,2.28V-2.28M8.22,2.28V-2.28M11.12,2.28V-2.28" stroke-width="1.26"/></g>
<g transform="translate(62.9,69.5) rotate(-25)" fill="none" stroke="#000"><polyline points="-7.00,0.00 -6.71,0.37 -6.42,0.73 -6.12,1.06 -5.83,1.34 -5.54,1.58 -5.25,1.76 -4.96,1.86 -4.67,1.90 -4.38,1.86 -4.08,1.76 -3.79,1.58 -3.50,1.34 -3.21,1.06 -2.92,0.73 -2.62,0.37 -2.33,0.00 -2.04,-0.37 -1.75,-0.73 -1.46,-1.06 -1.17,-1.34 -0.88,-1.58 -0.58,-1.76 -0.29,-1.86 0.00,-1.90 0.29,-1.86 0.58,-1.76 0.88,-1.58 1.17,-1.34 1.46,-1.06 1.75,-0.73 2.04,-0.37 2.33,-0.00 2.62,0.37 2.92,0.73 3.21,1.06 3.50,1.34 3.79,1.58 4.08,1.76 4.38,1.86 4.67,1.90 4.96,1.86 5.25,1.76 5.54,1.58 5.83,1.34 6.12,1.06 6.42,0.73 6.71,0.37 7.00,0.00" stroke-width="0.9"/><polyline points="-7.00,-0.00 -6.71,-0.37 -6.42,-0.73 -6.12,-1.06 -5.83,-1.34 -5.54,-1.58 -5.25,-1.76 -4.96,-1.86 -4.67,-1.90 -4.38,-1.86 -4.08,-1.76 -3.79,-1.58 -3.50,-1.34 -3.21,-1.06 -2.92,-0.73 -2.62,-0.37 -2.33,-0.00 -2.04,0.37 -1.75,0.73 -1.46,1.06 -1.17,1.34 -0.88,1.58 -0.58,1.76 -0.29,1.86 0.00,1.90 0.29,1.86 0.58,1.76 0.88,1.58 1.17,1.34 1.46,1.06 1.75,0.73 2.04,0.37 2.33,0.00 2.62,-0.37 2.92,-0.73 3.21,-1.06 3.50,-1.34 3.79,-1.58 4.08,-1.76 4.38,-1.86 4.67,-1.90 4.96,-1.86 5.25,-1.76 5.54,-1.58 5.83,-1.34 6.12,-1.06 6.42,-0.73 6.71,-0.37 7.00,-0.00" stroke-width="0.9"/><path d="M-5.37,1.35V-1.35M-3.97,1.35V-1.35M-0.70,1.35V-1.35M0.70,1.35V-1.35M3.97,1.35V-1.35M5.37,1.35V-1.35" stroke-width="0.81"/></g>
<g transform="translate(86.0,71.5) rotate(-36)" fill="none" stroke="#000"><polyline points="-14.00,0.00 -13.42,0.62 -12.83,1.22 -12.25,1.78 -11.67,2.26 -11.08,2.66 -10.50,2.96 -9.92,3.14 -9.33,3.20 -8.75,3.14 -8.17,2.96 -7.58,2.66 -7.00,2.26 -6.42,1.78 -5.83,1.22 -5.25,0.62 -4.67,0.00 -4.08,-0.62 -3.50,-1.22 -2.92,-1.78 -2.33,-2.26 -1.75,-2.66 -1.17,-2.96 -0.58,-3.14 0.00,-3.20 0.58,-3.14 1.17,-2.96 1.75,-2.66 2.33,-2.26 2.92,-1.78 3.50,-1.22 4.08,-0.62 4.67,-0.00 5.25,0.62 5.83,1.22 6.42,1.78 7.00,2.26 7.58,2.66 8.17,2.96 8.75,3.14 9.33,3.20 9.92,3.14 10.50,2.96 11.08,2.66 11.67,2.26 12.25,1.78 12.83,1.22 13.42,0.62 14.00,0.00" stroke-width="1.4"/><polyline points="-14.00,-0.00 -13.42,-0.62 -12.83,-1.22 -12.25,-1.78 -11.67,-2.26 -11.08,-2.66 -10.50,-2.96 -9.92,-3.14 -9.33,-3.20 -8.75,-3.14 -8.17,-2.96 -7.58,-2.66 -7.00,-2.26 -6.42,-1.78 -5.83,-1.22 -5.25,-0.62 -4.67,-0.00 -4.08,0.62 -3.50,1.22 -2.92,1.78 -2.33,2.26 -1.75,2.66 -1.17,2.96 -0.58,3.14 0.00,3.20 0.58,3.14 1.17,2.96 1.75,2.66 2.33,2.26 2.92,1.78 3.50,1.22 4.08,0.62 4.67,0.00 5.25,-0.62 5.83,-1.22 6.42,-1.78 7.00,-2.26 7.58,-2.66 8.17,-2.96 8.75,-3.14 9.33,-3.20 9.92,-3.14 10.50,-2.96 11.08,-2.66 11.67,-2.26 12.25,-1.78 12.83,-1.22 13.42,-0.62 14.00,-0.00" stroke-width="1.4"/><path d="M-10.73,2.28V-2.28M-7.93,2.28V-2.28M-1.40,2.28V-2.28M1.40,2.28V-2.28M7.93,2.28V-2.28M10.73,2.28V-2.28" stroke-width="1.26"/></g>
<circle cx="75.2" cy="224.3" r="30.3" fill="#cdebd1" stroke="#000" stroke-width="2.3" stroke-dasharray="5 2.6"/>
<rect x="-18.10" y="-5.40" width="36.20" height="10.80" rx="5.40" transform="translate(73.8,212.7) rotate(-9)" fill="none" stroke="#000" stroke-width="2.2"/>
<rect x="-9.30" y="-6.00" width="18.60" height="12.00" rx="6.00" transform="translate(62.0,230.4) rotate(-21)" fill="none" stroke="#000" stroke-width="2.2"/>
<rect x="-16.15" y="-6.40" width="32.30" height="12.80" rx="6.40" transform="translate(85.1,233.2) rotate(-31)" fill="none" stroke="#000" stroke-width="2.2"/>
<circle cx="61.0" cy="212.6" r="1.6" fill="#1e1e1e"/><circle cx="60.6" cy="212.2" r="0.45" fill="#777"/>
<g fill="#9fc7a5" stroke="#111" stroke-width="0.85"><circle cx="69.68" cy="215.89" r="1.05"/><circle cx="68.47" cy="217.01" r="1.05"/><circle cx="66.89" cy="216.52" r="1.05"/><circle cx="66.52" cy="214.91" r="1.05"/><circle cx="67.73" cy="213.79" r="1.05"/><circle cx="69.31" cy="214.28" r="1.05"/><circle cx="68.10" cy="215.40" r="1.0"/></g>
<circle cx="74.8" cy="210.8" r="1.9" fill="#1e1e1e"/><circle cx="74.39999999999999" cy="210.4" r="0.45" fill="#777"/>
<circle cx="80.3" cy="213.7" r="1.9" fill="#1e1e1e"/><circle cx="79.89999999999999" cy="213.29999999999998" r="0.45" fill="#777"/>
<g fill="#9fc7a5" stroke="#111" stroke-width="0.85"><circle cx="87.28" cy="209.99" r="1.05"/><circle cx="86.07" cy="211.11" r="1.05"/><circle cx="84.49" cy="210.62" r="1.05"/><circle cx="84.12" cy="209.01" r="1.05"/><circle cx="85.33" cy="207.89" r="1.05"/><circle cx="86.91" cy="208.38" r="1.05"/><circle cx="85.70" cy="209.50" r="1.0"/></g>
<g fill="#9fc7a5" stroke="#111" stroke-width="0.85"><circle cx="60.48" cy="232.69" r="1.05"/><circle cx="59.27" cy="233.81" r="1.05"/><circle cx="57.69" cy="233.32" r="1.05"/><circle cx="57.32" cy="231.71" r="1.05"/><circle cx="58.53" cy="230.59" r="1.05"/><circle cx="60.11" cy="231.08" r="1.05"/><circle cx="58.90" cy="232.20" r="1.0"/></g>
<circle cx="65.2" cy="228.8" r="1.9" fill="#1e1e1e"/><circle cx="64.8" cy="228.4" r="0.45" fill="#777"/>
<g fill="#9fc7a5" stroke="#111" stroke-width="0.85"><circle cx="79.38" cy="239.39" r="1.05"/><circle cx="78.17" cy="240.51" r="1.05"/><circle cx="76.59" cy="240.02" r="1.05"/><circle cx="76.22" cy="238.41" r="1.05"/><circle cx="77.43" cy="237.29" r="1.05"/><circle cx="79.01" cy="237.78" r="1.05"/><circle cx="77.80" cy="238.90" r="1.0"/></g>
<circle cx="83.6" cy="231.3" r="1.9" fill="#1e1e1e"/><circle cx="83.19999999999999" cy="230.9" r="0.45" fill="#777"/>
<g fill="#9fc7a5" stroke="#111" stroke-width="0.85"><circle cx="93.58" cy="227.19" r="1.05"/><circle cx="92.37" cy="228.31" r="1.05"/><circle cx="90.79" cy="227.82" r="1.05"/><circle cx="90.42" cy="226.21" r="1.05"/><circle cx="91.63" cy="225.09" r="1.05"/><circle cx="93.21" cy="225.58" r="1.05"/><circle cx="92.00" cy="226.70" r="1.0"/></g>
<circle cx="76.0" cy="380.2" r="30.3" fill="#8ac5b3" stroke="#000" stroke-width="2.3" stroke-dasharray="5 2.6"/>
<polyline points="63.55,366.00 63.63,366.22 63.87,366.44 64.26,366.67 64.77,366.89 65.37,367.11 66.04,367.33 66.73,367.55 67.41,367.77 68.04,368.00 68.59,368.22 69.02,368.44 69.31,368.66 69.44,368.88 69.41,369.10 69.23,369.32 68.89,369.55 68.42,369.77 67.84,369.99 67.19,370.21 66.50,370.43 65.81,370.65 65.16,370.88 64.58,371.10 64.11,371.32 63.77,371.54 63.59,371.76 63.56,371.99 63.69,372.21 63.98,372.43 64.41,372.65 64.96,372.87 65.59,373.09 66.27,373.31 66.96,373.54 67.63,373.76 68.23,373.98 68.74,374.20 69.13,374.42 69.37,374.64 69.45,374.87 69.37,375.09 69.13,375.31 68.74,375.53 68.23,375.75 67.63,375.98 66.96,376.20 66.27,376.42 65.59,376.64 64.96,376.86 64.41,377.08 63.98,377.31 63.69,377.53 63.56,377.75 63.59,377.97 63.77,378.19 64.11,378.41 64.58,378.63 65.16,378.86 65.81,379.08 66.50,379.30 67.19,379.52 67.84,379.74 68.42,379.96 68.89,380.19 69.23,380.41 69.41,380.63 69.44,380.85 69.31,381.07 69.02,381.30 68.59,381.52 68.04,381.74 67.41,381.96 66.73,382.18 66.04,382.40 65.37,382.62 64.77,382.85 64.26,383.07 63.87,383.29 63.63,383.51 63.55,383.73 63.63,383.95 63.87,384.18 64.26,384.40 64.77,384.62 65.37,384.84 66.04,385.06 66.73,385.29 67.41,385.51 68.04,385.73 68.59,385.95 69.02,386.17 69.31,386.39 69.44,386.62 69.41,386.84 69.23,387.06 68.89,387.28 68.42,387.50 67.84,387.72 67.19,387.94 66.50,388.17 65.81,388.39 65.16,388.61 64.58,388.83 64.11,389.05 63.77,389.27 63.59,389.50 63.56,389.72 63.69,389.94 63.98,390.16 64.41,390.38 64.96,390.61 65.59,390.83 66.27,391.05 66.96,391.27 67.63,391.49 68.23,391.71 68.74,391.94 69.13,392.16 69.37,392.38 69.45,392.60" fill="none" stroke="#000" stroke-width="2.6" stroke-linecap="round"/>
<path d="M62.6,365.5C61.8,362 62.2,359.2 65,358.5C68,357.8 73,357.8 75.4,359.0C77.2,360.2 76.8,364 76.7,367.6" fill="none" stroke="#000" stroke-width="0.8"/>
<path d="M76.3,388.5C76.5,392 77.5,394.8 80.6,394.8C83.6,394.8 85,392 85.4,388" fill="none" stroke="#000" stroke-width="0.8"/>
<path d="M85.9,367.6C86.6,365 88.4,363 87.8,360.6C87.4,359.2 86.6,358.9 85.9,358.8" fill="none" stroke="#000" stroke-width="0.8"/>
<path d="M69.8,392.4C71.5,394.5 71.8,397.5 69.8,398.8C67,400 63.5,399.8 62.2,402.2" fill="none" stroke="#000" stroke-width="0.8"/>
<path d="M76.8,368.5L81.0,378" fill="none" stroke="#000" stroke-width="0.7"/>
<path d="M74.1,388.6V377.6H71.7L76.1,367.4L80.6,377.6H77.8V388.6Z" fill="#000"/>
<path d="M84.0,367.6H86.9V378.0H89.9L85.4,388.3L80.6,378.0H84.0Z" fill="#000"/>
<circle cx="75.5" cy="538.5" r="30.3" fill="#4b7997" stroke="#000" stroke-width="2.3" stroke-dasharray="5 2.6"/>
<rect x="57.6" y="523" width="37.2" height="4.8" fill="#000"/>
<path d="M61.9,527.8V554.7Q61.9,557.7 64.9,557.7H88.6Q91.6,557.7 91.6,554.7V527.8" fill="none" stroke="#000" stroke-width="1.3"/>
<path d="M61.9,535.1H91.6" stroke="#000" stroke-width="0.8"/>
<path d="M77.0,518V547.5" stroke="#000" stroke-width="1.3"/>
<ellipse cx="73.3" cy="547.6" rx="3.7" ry="2.5" fill="none" stroke="#000" stroke-width="1"/>
<ellipse cx="80.7" cy="547.6" rx="3.7" ry="2.5" fill="none" stroke="#000" stroke-width="1"/>
</svg></body></html>
